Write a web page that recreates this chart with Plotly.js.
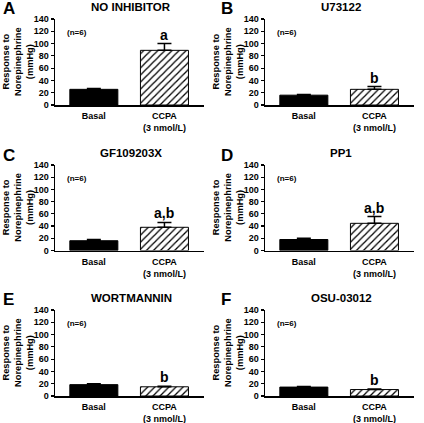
<!DOCTYPE html>
<html>
<head>
<meta charset="utf-8">
<script src="https://cdn.plot.ly/plotly-3.0.1.min.js"></script>
<style>html,body{margin:0;padding:0;background:#fff}#chart{width:424px;height:423px}</style>
</head>
<body>
<div id="chart"></div>
<script>
// ---- data ----
const panelTitles = ['NO INHIBITOR', 'U73122', 'GF109203X', 'PP1', 'WORTMANNIN', 'OSU-03012'];
const panelLetters = ['A', 'B', 'C', 'D', 'E', 'F'];
const categories = ['Basal', 'CCPA<br>(3 nmol/L)'];
const basalMean = [25.5, 16, 16, 18, 18.5, 14.5];
const basalErr  = [1.5, 1, 2, 2, 1.5, 1];
const ccpaMean  = [89, 25.5, 38, 44.5, 15, 10.5];
const ccpaErr   = [11, 4.5, 8, 11, 1, 1];
const sigLabels = ['a', 'b', 'a,b', 'a,b', 'b', 'b'];
const nLabel = '(n=6)';
const yTickVals = [0, 20, 40, 60, 80, 100, 120, 140];
const yTitle = 'Response to<br>Norepinephrine<br>(mmHg)';

// ---- layout geometry ----
const W = 424, H = 423;
const colX = [[55, 204], [265, 414]];
const rowY = [[19, 105], [165, 250.5], [310, 396]];
const FONT = 'Liberation Sans, Arial, Helvetica, sans-serif';

const data = [];
const layout = {
  width: W, height: H,
  margin: {l: 0, r: 0, t: 0, b: 0},
  paper_bgcolor: '#fff', plot_bgcolor: '#fff',
  showlegend: false, barmode: 'overlay',
  font: {family: FONT, color: '#000', size: 9, weight: 'bold'},
  annotations: []
};

for (let i = 0; i < 6; i++) {
  const col = i % 2, row = Math.floor(i / 2);
  const sfx = i === 0 ? '' : String(i + 1);
  const xa = 'x' + sfx, ya = 'y' + sfx;
  const xd = [colX[col][0] / W, colX[col][1] / W];
  const yd = [1 - rowY[row][1] / H, 1 - rowY[row][0] / H];

  // Basal bar (solid black)
  data.push({
    type: 'bar', xaxis: xa, yaxis: ya,
    x: [categories[0]], y: [basalMean[i]],
    width: 0.68,
    marker: {color: '#000', line: {color: '#000', width: 1}},
    error_y: {type: 'data', symmetric: false, array: [basalErr[i]], arrayminus: [0],
      color: '#000', thickness: 1.5, width: 7},
    hoverinfo: 'skip'
  });
  // CCPA bar (hatched)
  data.push({
    type: 'bar', xaxis: xa, yaxis: ya,
    x: [categories[1]], y: [ccpaMean[i]],
    width: 0.68,
    marker: {
      color: '#fff',
      line: {color: '#000', width: 1},
      pattern: {shape: '/', fgcolor: '#000', bgcolor: '#fff', size: 5, solidity: 0.25, fillmode: 'replace'}
    },
    error_y: {type: 'data', symmetric: false, array: [ccpaErr[i]], arrayminus: [0],
      color: '#000', thickness: 1.5, width: 7},
    hoverinfo: 'skip'
  });

  layout['xaxis' + sfx] = {
    domain: xd, anchor: ya, type: 'category',
    categoryorder: 'array', categoryarray: categories,
    range: [-0.55, 1.56],
    showline: true, linecolor: '#000', linewidth: 1.5,
    ticks: '', showgrid: false, zeroline: false,
    ticklabelstandoff: 2,
    tickfont: {family: FONT, size: 9, weight: 'bold'},
    fixedrange: true
  };
  layout['yaxis' + sfx] = {
    domain: yd, anchor: xa,
    range: [0, 140], tickvals: yTickVals,
    showline: true, linecolor: '#000', linewidth: 1.5,
    ticks: 'outside', ticklen: 3, tickwidth: 1.2, tickcolor: '#000',
    showgrid: false, zeroline: false,
    tickfont: {family: FONT, size: 9, weight: 'bold'},
    fixedrange: true
  };

  const plotCx = (xd[0] + xd[1]) / 2;
  // panel title
  layout.annotations.push({
    xref: 'paper', yref: 'paper', x: plotCx + 0.004, y: yd[1] + 12 / H,
    text: panelTitles[i], showarrow: false, xanchor: 'center', yanchor: 'middle',
    font: {family: FONT, size: 11.5, weight: 'bold'}
  });
  // panel letter
  layout.annotations.push({
    xref: 'paper', yref: 'paper', x: (col === 0 ? 1 : 219) / W, y: yd[1] + 10 / H,
    text: panelLetters[i], showarrow: false, xanchor: 'left', yanchor: 'middle',
    font: {family: FONT, size: 17, weight: 'bold'}
  });
  // y-axis title
  layout.annotations.push({
    xref: 'paper', yref: 'paper', x: xd[0] - 37 / W, y: (yd[0] + yd[1]) / 2,
    text: yTitle, showarrow: false, textangle: -90, xanchor: 'center', yanchor: 'middle',
    font: {family: FONT, size: 9.3, weight: 'bold'}
  });
  // n label
  layout.annotations.push({
    xref: xa + ' domain', yref: ya, x: 0.067, y: 118,
    text: nLabel, showarrow: false, xanchor: 'left', yanchor: 'middle',
    font: {family: FONT, size: 8, weight: 'bold'}
  });
  // significance label
  layout.annotations.push({
    xref: xa, yref: ya, x: categories[1], y: ccpaMean[i] + ccpaErr[i],
    text: sigLabels[i], showarrow: false, xanchor: 'center', yanchor: 'bottom', yshift: -1,
    font: {family: FONT, size: 14, weight: 'bold'}
  });
}

Plotly.newPlot('chart', data, layout, {staticPlot: true, displayModeBar: false});
</script>
</body>
</html>
